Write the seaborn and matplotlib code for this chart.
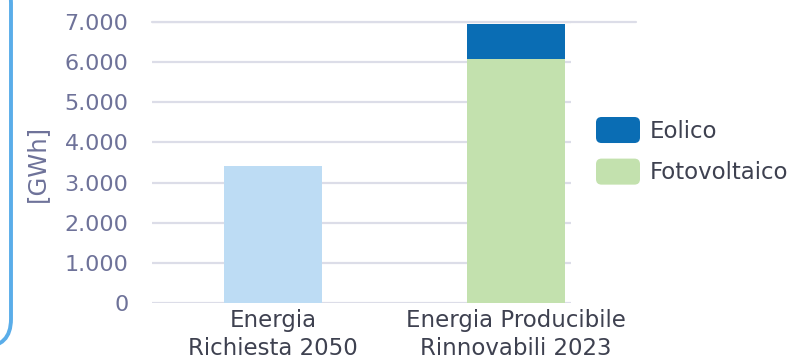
import matplotlib
matplotlib.use("Agg")
import matplotlib.pyplot as plt
import seaborn as sns
from matplotlib.patches import FancyBboxPatch, Patch
from matplotlib.legend_handler import HandlerPatch
from matplotlib.ticker import FuncFormatter, MultipleLocator

# Data (GWh)
categories = ["Energia\nRichiesta 2050", "Energia Producibile\nRinnovabili 2023"]
richiesta = [3420]
fotovoltaico = [6080]
eolico = [870]
series_names = ["Eolico", "Fotovoltaico"]

c_richiesta = "#BDDCF4"
c_eolico = "#0A6DB4"
c_foto = "#C3E1AE"
c_tick = "#6E7299"
c_text = "#3E4150"
c_grid = "#DCDDE8"

sns.set_theme(style="white")
plt.rcParams["font.family"] = ["DejaVu Sans"]
FS_Y = 16
FS_X = 16.5

fig = plt.figure(figsize=(8, 3.61), dpi=100)
ax = fig.add_axes([152 / 800, 1 - 303 / 361, (571 - 152) / 800, (303 - 22) / 361])

totals = [richiesta[0], fotovoltaico[0] + eolico[0]]
sns.barplot(x=categories, y=totals, order=categories, hue=categories,
            palette=[c_richiesta, c_eolico], width=0.4, legend=False,
            saturation=1, linewidth=0, ax=ax, zorder=3)
sns.barplot(x=[categories[1]], y=fotovoltaico, order=categories,
            color=c_foto, width=0.4, saturation=1, linewidth=0, ax=ax, zorder=4)

ax.set_xlim(-0.498, 1.226)
ax.set_ylim(0, 7000)
ax.yaxis.set_major_locator(MultipleLocator(1000))
ax.yaxis.set_major_formatter(FuncFormatter(lambda v, p: f"{int(v):,}".replace(",", ".")))
ax.grid(axis="y", color=c_grid, linewidth=1.6, zorder=0)
ax.axhline(7000, xmin=0, xmax=(636 - 152) / 419, color=c_grid, linewidth=1.6,
           clip_on=False, zorder=0)
for s in ax.spines.values():
    s.set_visible(False)
ax.tick_params(axis="y", length=0, pad=17, labelsize=FS_Y, labelcolor=c_tick)
ax.tick_params(axis="x", length=0, pad=4, labelsize=FS_X, labelcolor=c_text)
for lbl in ax.get_xticklabels():
    lbl.set_linespacing(1.28)
ax.set_xlabel("")
ax.set_ylabel("[GWh]", fontsize=17.5, color=c_tick, labelpad=2)
ax.yaxis.set_label_coords(-(152 - 49) / 419, (303 - 163) / 281)


class RoundHandler(HandlerPatch):
    def create_artists(self, legend, orig_handle, xdescent, ydescent,
                       width, height, fontsize, trans):
        p = FancyBboxPatch((-xdescent, -ydescent), width, height,
                           boxstyle="round,pad=0,rounding_size=4",
                           facecolor=orig_handle.get_facecolor(),
                           edgecolor="none", transform=trans)
        return [p]


handles = [Patch(facecolor=c_eolico), Patch(facecolor=c_foto)]
leg = fig.legend(handles, series_names, loc="upper left",
                 bbox_to_anchor=(596 / 800, 1 - 117 / 361), frameon=False,
                 borderpad=0, borderaxespad=0,
                 fontsize=FS_X, handlelength=1.92, handleheight=1.37,
                 handletextpad=0.44, labelspacing=0.68,
                 handler_map={Patch: RoundHandler()})
for t in leg.get_texts():
    t.set_color(c_text)

# Rounded frame on the left edge
frame = FancyBboxPatch((-300 / 800, 14 / 361), 311 / 800, (386 - 14) / 361,
                       boxstyle="round,pad=0,rounding_size=0.035",
                       transform=fig.transFigure, facecolor="none",
                       edgecolor="#5AADE9", linewidth=2.8, mutation_aspect=800 / 361)
fig.patches.append(frame)

fig.savefig("out.png", dpi=100)
